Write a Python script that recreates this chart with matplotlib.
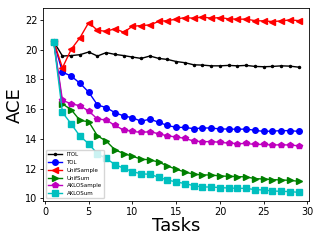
import matplotlib
matplotlib.use('Agg')
import matplotlib.pyplot as plt

tasks = list(range(1, 30))

itol = [20.54, 19.57, 19.6, 19.66, 19.84, 19.57, 19.8, 19.68, 19.6, 19.5,
        19.41, 19.57, 19.41, 19.34, 19.2, 19.12, 18.98, 18.96, 18.91, 18.91,
        18.94, 18.91, 18.94, 18.87, 18.85, 18.87, 18.91, 18.89, 18.82]
tol = [20.54, 18.49, 18.22, 17.74, 17.14, 16.28, 16.1, 15.76, 15.54, 15.42,
       15.18, 15.33, 15.11, 14.9, 14.77, 14.77, 14.68, 14.73, 14.73, 14.66,
       14.66, 14.64, 14.66, 14.57, 14.5, 14.52, 14.55, 14.55, 14.5]
unif_sample = [20.54, 18.78, 20.02, 20.8, 21.82, 21.3, 21.23, 21.41, 21.17, 21.57,
               21.62, 21.66, 21.9, 21.95, 22.05, 22.16, 22.11, 22.2, 22.11, 22.16,
               22.07, 22.05, 22.05, 21.95, 21.93, 21.89, 21.93, 22.0, 21.95]
unif_sum = [20.54, 16.35, 15.96, 15.24, 15.15, 14.2, 13.85, 13.26, 13.01, 12.83,
            12.63, 12.59, 12.43, 12.18, 11.95, 11.77, 11.62, 11.57, 11.57, 11.5,
            11.48, 11.46, 11.44, 11.32, 11.3, 11.26, 11.23, 11.21, 11.14]
aklo_sample = [20.54, 16.6, 16.35, 16.23, 15.87, 15.33, 15.27, 14.9, 14.59, 14.5,
               14.43, 14.48, 14.34, 14.2, 14.12, 14.03, 13.85, 13.8, 13.82, 13.76,
               13.71, 13.67, 13.69, 13.62, 13.62, 13.58, 13.6, 13.58, 13.53]
aklo_sum = [20.54, 15.78, 15.0, 14.18, 13.67, 12.99, 12.68, 12.27, 12.02, 11.8,
            11.64, 11.62, 11.41, 11.23, 11.1, 10.99, 10.85, 10.76, 10.76, 10.72,
            10.69, 10.67, 10.67, 10.58, 10.56, 10.49, 10.47, 10.45, 10.4]

fig = plt.figure(figsize=(3.2, 2.4), dpi=100)
ax = fig.add_axes([0.135, 0.162, 0.83, 0.804])

ax.plot(tasks, itol, 'k.-', lw=1, ms=3, label='ITOL')
ax.plot(tasks, tol, 'bo-', lw=1, ms=4, label='TOL')
ax.plot(tasks, unif_sample, 'r<-', lw=1, ms=4, label='UnifSample')
ax.plot(tasks, unif_sum, 'g>-', lw=1, ms=4, label='UnifSum')
ax.plot(tasks, aklo_sample, 'mp-', lw=1, ms=4, label='AKLOSample')
ax.plot(tasks, aklo_sum, 'cs-', lw=1, ms=4, label='AKLOSum')

ax.set_xlim(-0.2, 30.15)
ax.set_xticks([0, 5, 10, 15, 20, 25, 30])
ax.set_yticks([10, 12, 14, 16, 18, 20, 22])
ax.tick_params(labelsize=7, length=2.5, width=0.6, pad=1.5)
for s in ax.spines.values():
    s.set_linewidth(0.6)
ax.set_xlabel('Tasks', fontsize=13, labelpad=0)
ax.set_ylabel('ACE', fontsize=13, labelpad=1)
ax.legend(loc='lower left', fontsize=4, handlelength=2.5, borderpad=0.4,
          labelspacing=0.5, framealpha=0.8)

fig.savefig('out.png', dpi=100)
